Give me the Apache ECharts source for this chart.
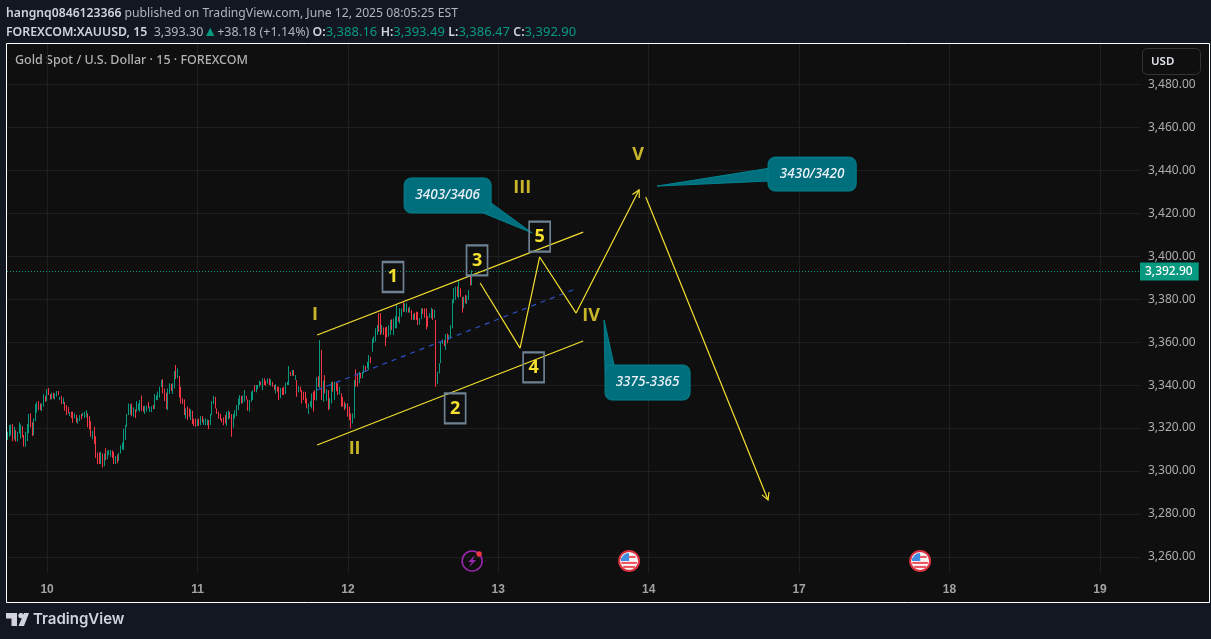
<!DOCTYPE html>
<html>
<head>
<meta charset="utf-8">
<title>XAUUSD 15</title>
<script src="https://cdn.jsdelivr.net/npm/echarts@6/dist/echarts.min.js"></script>
<style>
  html, body { margin: 0; padding: 0; background: #131722; }
  #chart { width: 1211px; height: 639px; }
</style>
</head>
<body>
<div id="chart"></div>
<script>
// 15 minute bars: [bar, open, close, low, high]
const bars = [
  [0,3314.2,3317.3,3313.8,3317.7],[1,3316.5,3319,3315.3,3320.8],[2,3317,3320.8,3316,3321],[3,3321,3314,3313.3,3321.2],
  [4,3314.5,3319,3314,3320],[5,3318,3313.5,3313,3318.4],[6,3313.5,3317,3313,3317.6],[7,3317,3321.5,3316.8,3322],
  [8,3315,3321,3314.5,3321],[9,3320,3315,3315,3320.3],[10,3316,3310.7,3310.7,3316.1],[11,3311.5,3317,3310.7,3317.6],
  [12,3313.5,3321,3313.3,3321.2],[13,3317,3325.5,3317,3325.9],[14,3326,3320,3319.7,3326.2],[15,3322,3316,3315.6,3322.1],
  [16,3317,3321,3316,3323.8],[17,3323,3330,3322.6,3330.5],[18,3327,3331,3326.5,3331.5],[19,3331.9,3327.7,3327.7,3332],
  [20,3330.8,3328,3327.7,3330.8],[21,3327.5,3330,3327.3,3330.8],[22,3329.5,3335,3329.3,3335.2],[23,3334,3331.5,3331.5,3334.3],
  [24,3332,3337,3331.9,3337.5],[25,3338,3335,3334.7,3338],[26,3335,3332.7,3332.7,3335.2],[27,3332.8,3335.5,3332.7,3335.8],
  [28,3335.5,3333,3333,3335.8],[29,3333,3335,3332.7,3335.5],[30,3334,3336.5,3333.9,3336.6],[31,3336.5,3334.8,3334.7,3336.6],
  [32,3332.5,3333.8,3332.4,3333.9],[33,3334.2,3330.6,3330.5,3334.3],[34,3331,3333,3330.5,3333.5],[35,3331.4,3327.5,3327.4,3331.5],
  [36,3330,3327,3325.4,3330],[37,3329,3326.5,3326.2,3329.1],[38,3325,3326.6,3324.9,3326.8],[39,3326.5,3324.5,3324,3327],
  [40,3327,3325,3321.8,3327],[41,3324,3326,3323.9,3326.2],[42,3325,3322.5,3322,3325.5],[43,3322,3324,3321.5,3324.1],
  [44,3323,3325,3322.6,3325.4],[45,3325.5,3324,3323.5,3326],[46,3325,3326.3,3324.9,3326.5],[47,3324.5,3326.5,3324,3327],
  [48,3324.4,3327.7,3324.3,3327.7],[49,3326,3320.5,3319.7,3326.2],[50,3324.5,3319,3318.7,3324.9],[51,3322.6,3316,3315.3,3322.6],
  [52,3315,3317.5,3314.2,3318],[53,3319.7,3312.5,3312,3320],[54,3315.4,3308.5,3305.5,3315.6],[55,3307.8,3302.6,3302.6,3307.9],
  [56,3307,3303,3302.6,3308],[57,3302.8,3308,3302.6,3308.3],[58,3307,3304,3301,3307.5],[59,3304,3307,3301.6,3307.5],
  [60,3310,3304.8,3304.4,3310],[61,3305,3308.5,3304.8,3308.8],[62,3307,3309,3306.8,3309.1],[63,3306.5,3308.8,3306,3309.1],
  [64,3308.5,3306,3305.5,3309],[65,3308.3,3305,3302.6,3308.3],[66,3303,3306.2,3302.6,3306.3],[67,3306,3303.5,3303,3307],
  [68,3305.5,3307.5,3304.1,3307.9],[69,3307.6,3311,3307.5,3311.3],[70,3309.6,3312.5,3309.4,3312.7],[71,3314.5,3318.8,3309.1,3318.9],
  [72,3314,3320.5,3313.8,3320.8],[73,3320.2,3325.8,3320,3325.9],[74,3325.5,3330.6,3325.4,3330.8],[75,3326,3330,3325.5,3330.5],
  [76,3330.6,3325.2,3324.9,3330.8],[77,3325,3328.8,3324.6,3329],[78,3328,3324.2,3324,3328.1],[79,3327,3331.9,3327,3331.9],
  [80,3328,3330.6,3327.7,3330.8],[81,3327.2,3332,3327,3332.4],[82,3334,3327.8,3327.4,3334.5],[83,3329,3327.2,3327,3329.6],
  [84,3326.5,3329.5,3325.9,3329.8],[85,3327.2,3329.6,3327,3329.8],[86,3331.4,3328.6,3328.5,3331.5],[87,3326.9,3329.2,3326.8,3329.3],
  [88,3327,3329.5,3326.8,3329.6],[89,3329.9,3328.2,3328.2,3330.1],[90,3328.3,3335,3328.2,3335.2],[91,3332.6,3334.6,3332.4,3334.7],
  [92,3332.6,3336,3332.4,3336.3],[93,3333.6,3338.4,3333.5,3338.6],[94,3338.5,3341.5,3338.5,3341.7],[95,3342,3336,3335.5,3342.2],
  [96,3337.8,3332,3331.9,3337.8],[97,3335.5,3328.3,3328.2,3335.8],[98,3331,3336,3327.7,3337.8],[99,3335.5,3340,3335.2,3340.2],
  [100,3340,3336.7,3336.6,3340],[101,3336,3340,3335.2,3340.2],[102,3338,3345.5,3337.8,3345.9],[103,3348.5,3342.3,3342.2,3348.7],
  [104,3342.6,3347,3342.5,3347.1],[105,3343.5,3333.6,3333.5,3343.6],[106,3338.5,3331,3330.8,3338.6],[107,3333,3330.7,3330.5,3333.2],
  [108,3332.6,3325.6,3325.4,3332.7],[109,3324,3328.3,3323.8,3328.5],[110,3329.2,3323.3,3323.1,3329.3],[111,3328.4,3324.8,3324.6,3328.5],
  [112,3323.3,3327.9,3323.1,3328],[113,3327.3,3321.4,3321.2,3327.4],[114,3323.5,3320.4,3320.3,3323.6],[115,3323.7,3320.2,3320,3323.8],
  [116,3320.5,3323.3,3320.3,3323.4],[117,3323.6,3320.4,3320.3,3323.8],[118,3320.8,3324.8,3320.7,3324.9],[119,3324.8,3322,3321.9,3324.9],
  [120,3321,3323,3320.8,3323.5],[121,3320.9,3323.7,3320.7,3323.8],[122,3320.8,3323.3,3320.7,3323.4],[123,3323,3319,3318.9,3323.1],
  [124,3320.8,3325.8,3320.7,3325.9],[125,3325.5,3331.8,3325.4,3331.9],[126,3330.6,3334.2,3330.5,3334.3],[127,3333.8,3328.6,3328.5,3333.9],
  [128,3328.4,3326,3325.9,3328.5],[129,3327,3324,3323.8,3327],[130,3326,3323.3,3323.1,3326],[131,3323.8,3322.1,3322,3323.8],
  [132,3324.2,3320.8,3320.7,3324.3],[133,3325,3322,3321.5,3325.5],[134,3320.5,3326.9,3320.3,3327],[135,3323.5,3327.3,3323.4,3327.4],
  [136,3326.9,3324,3323.8,3327],[137,3325.8,3320,3315.3,3325.9],[138,3319.6,3325.8,3319.5,3325.9],[139,3324,3327.6,3323.8,3327.7],
  [140,3325,3330,3324.9,3330.1],[141,3327.8,3333,3327.7,3333.2],[142,3330.2,3334.6,3330.1,3334.7],[143,3334.2,3331,3330.8,3334.3],
  [144,3331,3334,3330.8,3334.5],[145,3331.7,3336.9,3331.6,3337],[146,3334.2,3332.8,3332.7,3334.3],[147,3332.6,3327.5,3327.4,3332.7],
  [148,3327.1,3332.3,3327,3332.4],[149,3331.7,3336.2,3331.6,3336.3],[150,3332.5,3336.9,3332.4,3337],[151,3339.3,3336.4,3336.3,3339.4],
  [152,3336.1,3339.3,3336,3339.4],[153,3337.5,3339.3,3337.4,3339.4],[154,3338.7,3341.3,3338.6,3341.4],[155,3340.8,3339.5,3339.4,3340.9],
  [156,3337.1,3342.4,3337,3342.5],[157,3342.4,3339.5,3339.4,3342.5],[158,3341.3,3339.2,3339.1,3341.4],[159,3340.1,3342.4,3340,3342.5],
  [160,3342.4,3339.5,3339.4,3342.5],[161,3339,3341.9,3338.9,3342],[162,3340.8,3338.7,3338.6,3340.9],[163,3339.3,3337.1,3337,3339.4],
  [164,3335.6,3339.7,3335.5,3339.8],[165,3338.5,3336.4,3336.3,3338.6],[166,3338.5,3332.5,3332.4,3338.6],[167,3333.3,3338,3333.2,3338.1],
  [168,3338,3334.8,3334.7,3338.1],[169,3338.5,3334.8,3334.7,3338.6],[170,3335.3,3340.4,3335.2,3340.5],[171,3339.5,3340.8,3339.4,3340.9],
  [172,3339.5,3348,3339.4,3348.2],[173,3345.5,3343.7,3343.6,3345.6],[174,3343.8,3346.3,3343.7,3346.4],[175,3346.3,3343.7,3343.6,3346.4],
  [176,3341.8,3343.9,3341.7,3344],[177,3341.6,3334,3333.9,3341.7],[178,3336.1,3338.8,3336,3338.9],[179,3338.5,3336.4,3336.3,3338.6],
  [180,3337,3331,3330.8,3337],[181,3336.2,3332.5,3332.4,3336.3],[182,3336.2,3331,3330.8,3336.3],[183,3333.1,3328.6,3328.5,3333.2],
  [184,3326,3330.7,3325.9,3330.8],[185,3329.4,3331.8,3329.3,3331.9],[186,3328.6,3335.4,3328.5,3335.5],[187,3336.2,3328,3327,3336.3],
  [188,3337,3332.5,3332.4,3337],[189,3332.2,3342.9,3332.1,3343],[190,3343,3339,3338.5,3343.5],[191,3341,3358,3338,3360.3],
  [192,3355.7,3333,3332.4,3355.7],[193,3331.7,3341.3,3331.6,3341.4],[194,3344,3336,3335.5,3344],[195,3332.5,3337,3332,3337.5],
  [196,3337,3327.8,3327.7,3337],[197,3328.3,3333.1,3328.2,3333.2],[198,3330.9,3340.8,3330.8,3340.9],[199,3340.8,3336.4,3336.3,3340.9],
  [200,3332.5,3340.8,3332.4,3340.9],[201,3340,3337,3336.5,3340.5],[202,3340.1,3334.8,3334.7,3340.2],[203,3335.5,3338,3335,3338.5],
  [204,3335.4,3329.4,3329.3,3335.5],[205,3333.8,3329.4,3329.3,3333.9],[206,3331.5,3327.8,3327.7,3331.6],[207,3328.6,3330.7,3328.5,3330.8],
  [208,3330.7,3324.7,3324.6,3330.8],[209,3329.3,3323.2,3323.1,3329.3],[210,3326,3321,3319.2,3326.2],[211,3321.6,3326,3321.5,3326.2],
  [212,3324,3341.5,3323.9,3341.7],[213,3346.6,3338.8,3338.6,3346.7],[214,3344.7,3338.8,3338.6,3344.8],[215,3340.3,3345.5,3340.2,3345.6],
  [216,3345,3342.6,3342.5,3345.1],[217,3342.6,3345.5,3342.5,3345.6],[218,3344.9,3348.6,3344.8,3348.7],[219,3348.1,3345.7,3345.6,3348.2],
  [220,3347.2,3350.1,3347.1,3350.2],[221,3346.5,3353.3,3346.4,3353.4],[222,3352.5,3349.6,3349.5,3352.6],[223,3355,3361,3354.9,3361.1],
  [224,3359.5,3361.5,3359,3362],[225,3359.7,3365.7,3359.6,3365.8],[226,3362.8,3367.2,3362.7,3367.3],[227,3372.7,3364.3,3364.2,3372.8],
  [228,3372.7,3362.8,3362.7,3372.8],[229,3363.5,3367.2,3363.4,3367.3],[230,3366.1,3362.8,3362.7,3366.2],[231,3366.1,3358,3357.5,3366.2],
  [232,3366,3362,3361.5,3366.5],[233,3362,3367.2,3361.9,3367.3],[234,3362.8,3369.6,3362.7,3369.7],[235,3369.9,3365.1,3365,3370],
  [236,3362.8,3370.3,3362.7,3370.4],[237,3366,3371,3365.8,3371.5],[238,3365.9,3376.5,3365.8,3376.6],[239,3371.1,3369,3368.9,3371.2],
  [240,3368.2,3375,3368.1,3375.1],[241,3371.3,3375,3371.2,3375.1],[242,3377.8,3373.6,3373.5,3377.9],[243,3374,3377,3373.5,3377.5],
  [244,3373.3,3377.3,3373.2,3377.4],[245,3375.3,3373.2,3373.1,3375.4],[246,3373.2,3375.7,3373.1,3375.9],[247,3374.2,3369.8,3369.7,3374.3],
  [248,3369.8,3372.4,3369.7,3372.5],[249,3372.5,3370,3369.7,3373],[250,3373.4,3369.8,3369.7,3373.5],[251,3373.4,3367.4,3367.3,3373.5],
  [252,3368,3370,3367.5,3370.5],[253,3370.2,3375,3370.1,3375.1],[254,3375,3372.6,3372.5,3375.1],[255,3375,3370.8,3370.7,3375.1],
  [256,3375,3365.4,3365.3,3375.1],[257,3371,3367,3366.5,3371.5],[258,3370.8,3372.7,3370.7,3372.8],[259,3370.5,3375.3,3370.4,3375.4],
  [260,3374.7,3369.8,3369.7,3374.8],[261,3371,3374,3370.5,3374.5],[262,3369.6,3342,3338.6,3369.7],[263,3339.9,3345.5,3339.8,3345.6],
  [264,3344.9,3349.4,3344.8,3349.5],[265,3349.6,3359.5,3349.5,3359.6],[266,3358.6,3360.6,3358.5,3360.7],[267,3360.2,3357.6,3357.5,3360.3],
  [268,3355.8,3363,3355.7,3363.1],[269,3363.3,3358.9,3358.8,3363.4],[270,3360.4,3362.6,3360.3,3362.7],[271,3361.2,3367.2,3361.1,3367.3],
  [272,3365.9,3379.2,3365.8,3379.3],[273,3378,3384,3377.5,3384.5],[274,3379.1,3385.1,3379,3385.2],[275,3385,3380.6,3380.5,3385.2],
  [276,3379.9,3388.2,3379.8,3388.3],[277,3384.3,3380.6,3380.5,3384.4],[278,3380.4,3373.2,3373.1,3380.5],[279,3375.2,3380.4,3375.1,3380.5],
  [280,3381.2,3377.5,3377.4,3381.3],[281,3377.5,3380.5,3377,3381],[282,3379.1,3383.5,3379,3383.6],[283,3390.5,3385.8,3385.7,3390.6]
];
// the header gives the last bar exactly
const lastBar = [284,3388.16,3392.9,3386.47,3393.49];
// my readings above came out this far off against the price scale
const readBias = 0.65;

const lastClose = 3392.90;
const priceTicks = [3260,3280,3300,3320,3340,3360,3380,3400,3420,3440,3460,3480];
const dayBars = [24,116,208,300,392,484,576,668];
const dayLabels = ['10','11','12','13','14','17','18','19'];

// drawings, as [bar, price]
const channelTop = [[189.2,3363.35],[351.9,3411.25]];
const channelBottom = [[189.2,3312.15],[351.9,3360.55]];
const channelMiddle = [[189.2,3337.75],[348.8,3385.25]];
const waveUp = [[288.9,3387.55],[313.3,3357.25],[325.3,3399.65],[347.6,3373.55],[386.1,3430.85]];
const waveDown = [[390.2,3427.55],[465,3286.55]];

const boxLabels = ['1','2','3','4','5'];
const boxPoints = [[235.6,3390.35],[273.6,3329.15],[287,3398.05],[321.6,3348.25],[325.3,3409.15]];
const romanLabels = ['I','II','III','IV','V'];
const romanPoints = [[187.9,3372.65],[212.1,3310.25],[314.6,3431.75],[356.8,3372.15],[385.5,3447.15]];

const calloutLabels = ['3403/3406','3375-3365','3430/3420'];
const calloutBoxes = [[242.4,3436.45,295.6,3420.15],[365.3,3349.35,417.3,3333.05],[465,3446.15,518.9,3430.35]];
const calloutTails = [
  [[290.7,3420.15],[320.7,3410.85],[295.6,3424.75]],
  [[365.3,3346.15],[364.7,3370.35],[370.8,3349.35]],
  [[466.3,3441.05],[397.1,3432.65],[466.3,3435.05]]
];
const eventPoints = [[284,3258.15],[380,3258.15],[558,3258.15]];
const eventKinds = ['dividend','us','us'];

const GREEN = '#089981';
const RED = '#f23645';
const YELLOW = '#f5e02f';
const GRID = '#1f1f1f';
const UI_FONT = '"Noto Sans", sans-serif';

function fmtPrice(v) {
  return v.toLocaleString('en-US', { minimumFractionDigits: 2, maximumFractionDigits: 2 });
}

function lineSeries(data, color, type) {
  return {
    type: 'line',
    data: data,
    symbol: 'none',
    silent: true,
    z: 5,
    lineStyle: { color: color, width: 1.2, type: type || 'solid' }
  };
}

function renderCallout(params, api) {
  var i = params.dataIndex;
  var box = calloutBoxes[i];
  var a = api.coord([box[0], box[1]]);
  var b = api.coord([box[2], box[3]]);
  var tail = calloutTails[i].map(function (p) { return api.coord(p); });
  var style = { fill: '#006f7d', stroke: '#00838f', lineWidth: 1 };
  return {
    type: 'group',
    children: [
      { type: 'polygon', shape: { points: tail }, style: style },
      { type: 'rect', shape: { x: a[0], y: a[1], width: b[0] - a[0], height: b[1] - a[1], r: 7 }, style: style },
      { type: 'rect', shape: { x: a[0] + 1, y: a[1] + 1, width: b[0] - a[0] - 2, height: b[1] - a[1] - 2, r: 6 }, style: { fill: '#006f7d' } },
      { type: 'text', x: (a[0] + b[0]) / 2, y: (a[1] + b[1]) / 2,
        style: { text: calloutLabels[i], fill: '#f0f3fa', align: 'center', verticalAlign: 'middle',
                 font: 'italic 500 13.5px ' + UI_FONT } }
    ]
  };
}

function renderArrow(params, api) {
  var tip = api.coord(waveUp[4]);
  var from = api.coord(waveUp[3]);
  if (params.dataIndex === 1) {
    tip = api.coord(waveDown[1]);
    from = api.coord(waveDown[0]);
  }
  var ang = Math.atan2(tip[1] - from[1], tip[0] - from[0]);
  var len = 8;
  var p1 = [tip[0] - len * Math.cos(ang - 0.5), tip[1] - len * Math.sin(ang - 0.5)];
  var p2 = [tip[0] - len * Math.cos(ang + 0.5), tip[1] - len * Math.sin(ang + 0.5)];
  return {
    type: 'polyline',
    shape: { points: [p1, tip, p2] },
    style: { stroke: YELLOW, lineWidth: 1.2, fill: null }
  };
}

function renderEvent(params, api) {
  var c = api.coord(eventPoints[params.dataIndex]);
  var x = c[0], y = c[1];
  if (eventKinds[params.dataIndex] === 'dividend') {
    return {
      type: 'group',
      children: [
        { type: 'circle', shape: { cx: x, cy: y, r: 10 }, style: { fill: null, stroke: '#9c27b0', lineWidth: 1.5 } },
        { type: 'polygon', shape: { points: [[x + 3, y - 6], [x - 4, y + 1], [x - 0.5, y + 1], [x - 3, y + 6], [x + 4, y - 1], [x + 0.5, y - 1]] },
          style: { fill: '#9c27b0' } },
        { type: 'circle', shape: { cx: x + 7, cy: y - 7, r: 2.7 }, style: { fill: RED } }
      ]
    };
  }
  return {
    type: 'group',
    children: [
      { type: 'circle', shape: { cx: x, cy: y, r: 10 }, style: { fill: '#f5f5f5', stroke: '#d8303f', lineWidth: 2 } },
      { type: 'sector', shape: { cx: x, cy: y, r0: 0, r: 8, startAngle: Math.PI, endAngle: Math.PI * 1.5 }, style: { fill: '#3f8be0' } },
      { type: 'rect', shape: { x: x - 8, y: y - 3, width: 8, height: 3 }, style: { fill: '#3f8be0' } },
      { type: 'rect', shape: { x: x, y: y - 5, width: 6.5, height: 2 }, style: { fill: '#ef4f5c' } },
      { type: 'rect', shape: { x: x - 7.8, y: y + 1, width: 15.6, height: 2 }, style: { fill: '#ef4f5c' } },
      { type: 'rect', shape: { x: x - 6, y: y + 5, width: 12, height: 2 }, style: { fill: '#ef4f5c' } }
    ]
  };
}

var candleData = bars.map(function (b) {
  return [b[0], b[1] + readBias, b[2] + readBias, b[3] + readBias, b[4] + readBias];
}).concat([lastBar]);

var myChart = echarts.init(document.getElementById('chart'));
var option = {
  animation: false,
  backgroundColor: '#131722',
  grid: { left: 7, right: 71, top: 44, bottom: 66 },
  xAxis: {
    type: 'value',
    min: -0.5,
    max: 692.5,
    axisLine: { show: false },
    axisTick: { show: false, customValues: dayBars },
    splitLine: { show: true, lineStyle: { color: GRID } },
    axisLabel: {
      customValues: dayBars,
      margin: 11,
      color: '#a3a3a3',
      fontFamily: '"Liberation Sans", sans-serif',
      fontWeight: 'bold',
      fontSize: 12,
      formatter: function (v) { return dayLabels[dayBars.indexOf(v)]; }
    }
  },
  yAxis: {
    type: 'value',
    position: 'right',
    min: 3252.53,
    max: 3498.81,
    axisLine: { show: false },
    axisTick: { show: false, customValues: priceTicks },
    splitLine: { show: true, lineStyle: { color: GRID } },
    axisLabel: {
      customValues: priceTicks,
      margin: 8,
      padding: [0, 0, 2, 0],
      color: '#adadad',
      fontFamily: UI_FONT,
      fontSize: 12,
      formatter: fmtPrice
    }
  },
  graphic: [
    { type: 'rect', z: -1, shape: { x: 6.5, y: 43.5, width: 1203, height: 559 }, style: { fill: '#0f0f0f', stroke: '#ffffff', lineWidth: 1 } },
    { type: 'text', left: 6, top: 8, style: {
        text: '{a|hangnq0846123366}{b| published on TradingView.com, June 12, 2025 08:05:25 EST}',
        rich: {
          a: { font: '600 12.2px ' + UI_FONT, fill: '#d1d4dc' },
          b: { font: '12.2px ' + UI_FONT, fill: '#b2b5be' }
        }
    } },
    { type: 'text', left: 6, top: 25, style: {
        text: '{a|FOREXCOM:XAUUSD, 15}{b|  3,393.30}{t|▲}{b|+38.18 (+1.14%) }{a|O:}{g|3,388.16 }{a|H:}{g|3,393.49 }{a|L:}{g|3,386.47 }{a|C:}{g|3,392.90}',
        rich: {
          a: { font: '600 12.3px ' + UI_FONT, fill: '#d1d4dc' },
          b: { font: '12.5px ' + UI_FONT, fill: '#b2b5be' },
          t: { font: '14px ' + UI_FONT, fill: GREEN },
          g: { font: '13px ' + UI_FONT, fill: GREEN }
        }
    } },
    { type: 'text', left: 15, top: 54, style: { text: 'Gold Spot / U.S. Dollar · 15 · FOREXCOM', font: '500 12.5px ' + UI_FONT, fill: '#b2b2b2' } },
    { type: 'rect', shape: { x: 1142.5, y: 48.5, width: 58, height: 26, r: 5 }, style: { fill: '#0f0f0f', stroke: '#333333', lineWidth: 1 } },
    { type: 'text', left: 1151, top: 56, style: { text: 'USD', font: '600 11.5px ' + UI_FONT, fill: '#e0e3eb' } },
    // TradingView mark
    { type: 'polygon', shape: { points: [[6, 613], [17, 613], [17, 626], [11.5, 626], [11.5, 618.5], [6, 618.5]] }, style: { fill: '#d1d4dc' } },
    { type: 'circle', shape: { cx: 21, cy: 615.6, r: 2.7 }, style: { fill: '#d1d4dc' } },
    { type: 'polygon', shape: { points: [[24, 613], [29, 613], [24, 626], [18.5, 626]] }, style: { fill: '#d1d4dc' } },
    { type: 'text', left: 33, top: 612, style: { text: 'TradingView', font: '600 15px Inter, sans-serif', fill: '#d1d4dc' } }
  ],
  series: [
    {
      type: 'candlestick',
      data: candleData,
      barWidth: 1,
      z: 3,
      itemStyle: { color: GREEN, color0: RED, borderColor: GREEN, borderColor0: RED, borderWidth: 1 },
      markLine: {
        silent: true,
        symbol: 'none',
        animation: false,
        lineStyle: { color: GREEN, type: [1, 2], width: 1 },
        label: {
          position: 'end',
          distance: 0,
          formatter: fmtPrice(lastClose),
          color: '#fff',
          fontFamily: UI_FONT,
          fontSize: 12,
          fontWeight: 500,
          backgroundColor: GREEN,
          padding: [3, 6, 3, 5]
        },
        data: [{ yAxis: lastClose }]
      }
    },
    lineSeries(channelTop, YELLOW),
    lineSeries(channelBottom, YELLOW),
    lineSeries(channelMiddle, '#2d50c8', [5, 5]),
    lineSeries(waveUp, YELLOW),
    lineSeries(waveDown, YELLOW),
    {
      type: 'custom',
      silent: true,
      z: 5,
      data: [[0], [1]],
      renderItem: renderArrow
    },
    {
      type: 'custom',
      silent: true,
      z: 6,
      data: calloutLabels.map(function (_, i) { return [i]; }),
      renderItem: renderCallout
    },
    {
      type: 'scatter',
      silent: true,
      z: 7,
      symbol: 'rect',
      symbolSize: [21, 30],
      data: boxPoints,
      itemStyle: { color: 'rgba(0,0,0,0)', borderColor: '#6f8294', borderWidth: 2, opacity: 1 },
      label: {
        show: true,
        position: 'inside',
        color: YELLOW,
        fontFamily: '"Open Sans", sans-serif',
        fontWeight: 'bold',
        fontSize: 18,
        formatter: function (p) { return boxLabels[p.dataIndex]; }
      }
    },
    {
      type: 'scatter',
      silent: true,
      z: 7,
      symbolSize: 0,
      data: romanPoints,
      label: {
        show: true,
        position: 'inside',
        color: YELLOW,
        fontFamily: '"Open Sans", sans-serif',
        fontWeight: 'bold',
        fontSize: 18,
        formatter: function (p) { return romanLabels[p.dataIndex]; }
      }
    },
    {
      type: 'custom',
      silent: true,
      z: 6,
      data: eventPoints,
      renderItem: renderEvent
    }
  ]
};
myChart.setOption(option);
</script>
</body>
</html>
